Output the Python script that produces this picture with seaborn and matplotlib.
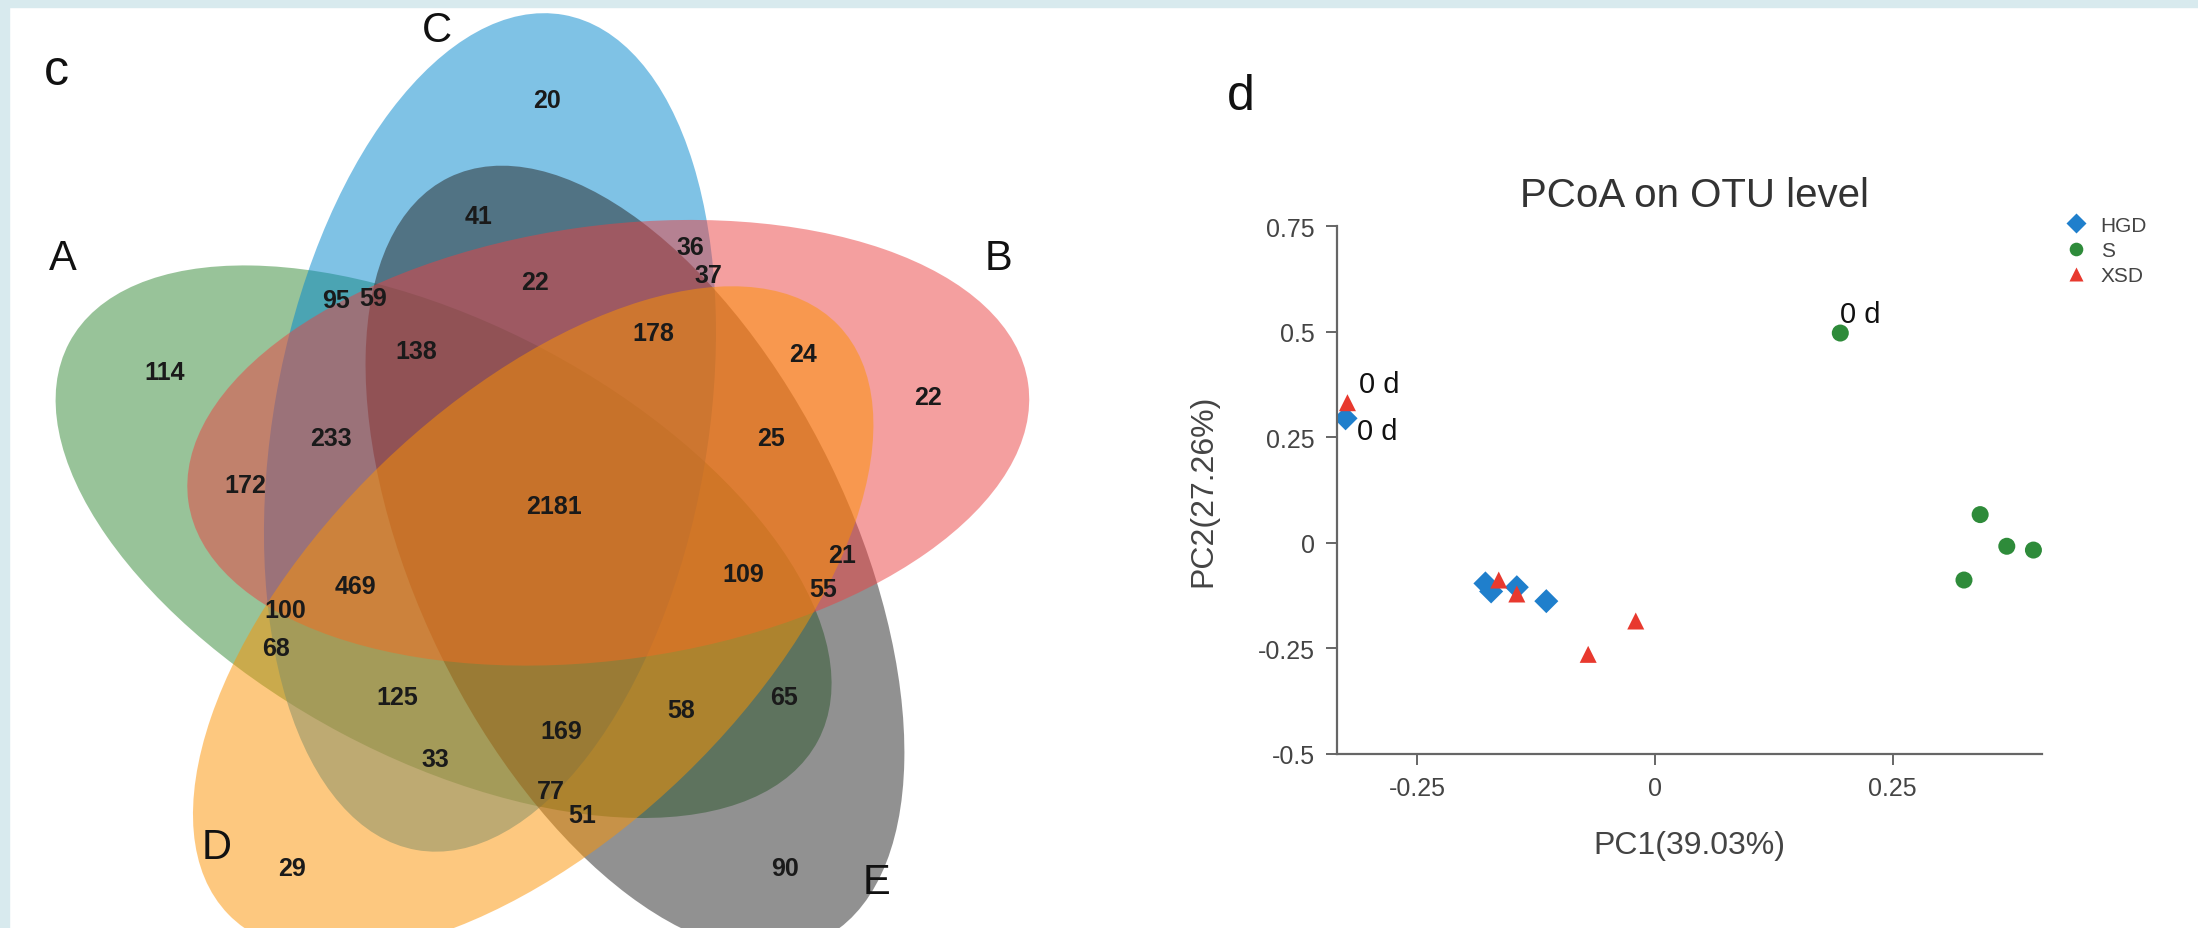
import numpy as np
import pandas as pd
import seaborn as sns
import matplotlib.pyplot as plt
from matplotlib.patches import Ellipse, Rectangle

# ---- panel c: five-set venn ----
set_names = ['A', 'B', 'C', 'D', 'E']
set_colors = ['#338935', '#eb4141', '#0086cd', '#fd9300', '#252525']

region_counts = [20, 41, 36, 37, 22, 95, 59, 178, 24, 22,
                 114, 138, 233, 25, 172, 2181, 21, 109, 469, 55,
                 100, 68, 125, 65, 58, 169, 33, 77, 51, 29, 90]

# where each count is printed (figure pixels)
region_xy = [(547, 101), (479, 217), (690, 248), (708, 276), (535, 283),
             (336, 301), (373, 299), (653, 334), (803, 355), (928, 398),
             (165, 373), (416, 352), (331, 439), (771, 439), (245, 486),
             (554, 507), (842, 556), (743, 575), (355, 587), (823, 590),
             (285, 611), (276, 649), (397, 698), (784, 698), (681, 711),
             (561, 732), (435, 760), (551, 792), (582, 816), (292, 869),
             (785, 869)]
set_label_xy = [(63, 259), (998, 259), (437, 31), (217, 848), (876, 883)]

# ---- panel d: PCoA ----
groups = ['HGD'] * 5 + ['S'] * 5 + ['XSD'] * 5
pc1 = [-0.325, -0.178, -0.172, -0.145, -0.114,
       0.195, 0.342, 0.370, 0.398, 0.325,
       -0.323, -0.164, -0.145, -0.070, -0.020]
pc2 = [0.295, -0.096, -0.115, -0.105, -0.138,
       0.497, 0.067, -0.008, -0.017, -0.088,
       0.332, -0.088, -0.121, -0.264, -0.185]
day_label = ['0 d', '', '', '', '',
             '0 d', '', '', '', '',
             '0 d', '', '', '', '']
group_colors = {'HGD': '#1f7fcc', 'S': '#2e8b3a', 'XSD': '#e8392e'}
group_markers = {'HGD': 'D', 'S': 'o', 'XSD': '^'}

df = pd.DataFrame({'PC1': pc1, 'PC2': pc2, 'group': groups, 'day': day_label})

sns.set_theme(style='white')
plt.rcParams['font.family'] = ['Liberation Sans', 'DejaVu Sans']

W, H = 2198, 929
fig = plt.figure(figsize=(W / 100, H / 100), dpi=100)

# light frame on top and left
fig.patches.append(Rectangle((0, 1 - 8 / H), 1, 8 / H, transform=fig.transFigure,
                             color='#d8eaee', zorder=0))
fig.patches.append(Rectangle((0, 0), 9 / W, 1, transform=fig.transFigure,
                             color='#d8eaee', zorder=0))

# venn axes in pixel units
axv = fig.add_axes([0, 0, 1, 1])
axv.set_xlim(0, W)
axv.set_ylim(H, 0)
axv.axis('off')
axv.patch.set_alpha(0)

cx0, cy0 = 542, 520
off, semi_a, semi_b = 101, 424, 217
theta = {'B': 49, 'C': 121, 'A': 193, 'D': 265, 'E': 337}
for name in ['A', 'C', 'E', 'B', 'D']:
    t = np.deg2rad(theta[name])
    cx = cx0 + off * np.cos(t)
    cy = cy0 - off * np.sin(t)
    col = set_colors[set_names.index(name)]
    axv.add_patch(Ellipse((cx, cy), 2 * semi_a, 2 * semi_b, angle=-(theta[name] - 41),
                          facecolor=col, alpha=0.5, lw=0))

for n, (x, y) in zip(region_counts, region_xy):
    axv.text(x, y, str(n), ha='center', va='center', fontsize=18,
             fontweight='bold', color='#1a1a1a')
for name, (x, y) in zip(set_names, set_label_xy):
    axv.text(x, y, name, ha='center', va='center', fontsize=30, color='#111111')

axv.text(56, 72, 'c', ha='center', va='center', fontsize=36, color='#111111')
axv.text(1241, 97, 'd', ha='center', va='center', fontsize=36, color='#111111')

# PCoA axes
ax = fig.add_axes([1337 / W, 1 - 755 / H, (2042 - 1337) / W, (755 - 223) / H])
sns.scatterplot(data=df, x='PC1', y='PC2', hue='group', style='group',
                palette=group_colors, markers=group_markers, s=150,
                edgecolor='none', ax=ax)
ax.set_xlim(-0.334, 0.407)
ax.set_ylim(-0.5, 0.76)
ax.set_xticks([-0.25, 0, 0.25])
ax.set_xticklabels(['-0.25', '0', '0.25'])
ax.set_yticks([-0.5, -0.25, 0, 0.25, 0.5, 0.75])
ax.set_yticklabels(['-0.5', '-0.25', '0', '0.25', '0.5', '0.75'])
ax.spines['left'].set_bounds(-0.5, 0.75)
for side in ['top', 'right']:
    ax.spines[side].set_visible(False)
for side in ['left', 'bottom']:
    ax.spines[side].set_color('#666666')
    ax.spines[side].set_linewidth(1.6)
ax.tick_params(axis='both', which='major', direction='out', length=8, width=1.4,
               color='#666666', labelsize=18, labelcolor='#444444', pad=8,
               left=True, bottom=True)
ax.set_xlabel('')
ax.set_ylabel('')

for x, y, lab, g in zip(pc1, pc2, day_label, groups):
    if lab:
        dy = 0.045 if g != 'HGD' else -0.03
        dx = 0.012 if g != 'S' else 0.0
        ax.text(x + dx, y + dy, lab, fontsize=21, color='#111111',
                ha='left', va='center')

sns.move_legend(ax, 'upper left', bbox_to_anchor=(2036 / W, 1 - 198 / H),
                bbox_transform=fig.transFigure, title=None, frameon=False,
                fontsize=15, labelcolor='#444444', handletextpad=0.2,
                labelspacing=0.3, markerscale=0.8)

fig.text(1695 / W, 1 - 196 / H, 'PCoA on OTU level', ha='center', va='center',
         fontsize=29, color='#333333')
fig.text(1689 / W, 1 - 846 / H, 'PC1(39.03%)', ha='center', va='center',
         fontsize=23, color='#444444')
fig.text(1203 / W, 1 - 491 / H, 'PC2(27.26%)', ha='center', va='center',
         fontsize=23, color='#444444', rotation=90)

fig.savefig('out.png', dpi=100)
